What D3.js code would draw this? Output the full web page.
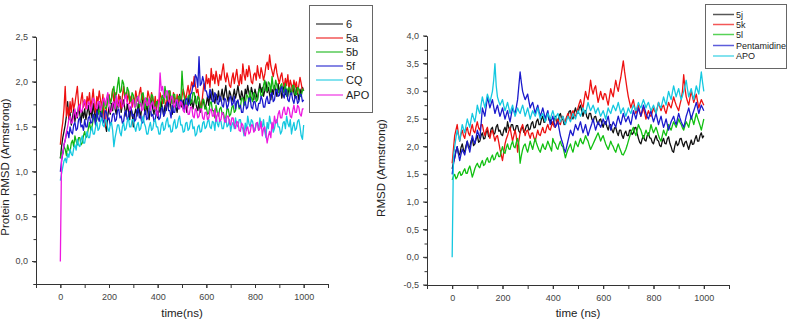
<!DOCTYPE html>
<html>
<head>
<meta charset="utf-8">
<script src="https://cdn.jsdelivr.net/npm/d3@7"></script>
<style>
  body { margin: 0; background: #fff; }
  svg { display: block; font-family: "Liberation Sans", Arial, sans-serif; }
  .tick text { fill: #444; }
</style>
</head>
<body>
<div id="chart"></div>
<script>
// time axis, one sample every 5 ns
const times = d3.range(0, 1001, 5);

// ---- left panel: protein RMSD ----
const leftNames = ["6", "5a", "5b", "5f", "CQ", "APO"];
const leftColors = ["#111111", "#ee1111", "#11b511", "#1a1acc", "#14c8e0", "#ee18e0"];

const s6 = [
  1.15,1.28,1.38,1.45,1.52,1.62,1.78,1.58,1.66,1.52,1.60,1.70,1.56,1.66,1.60,1.74,1.64,1.55,1.68,1.60,
  1.70,1.58,1.66,1.74,1.62,1.70,1.60,1.76,1.66,1.58,1.72,1.64,1.78,1.68,1.60,1.74,1.66,1.52,1.45,1.62,
  1.72,1.64,1.76,1.68,1.82,1.70,1.64,1.78,1.72,1.84,1.66,1.74,1.80,1.70,1.62,1.76,1.68,1.58,1.72,1.66,
  1.50,1.64,1.70,1.62,1.76,1.68,1.60,1.74,1.82,1.70,1.64,1.76,1.66,1.58,1.72,1.80,1.70,1.64,1.76,1.68,
  1.60,1.72,1.66,1.78,1.70,1.62,1.74,1.68,1.80,1.72,1.84,1.70,1.64,1.76,1.82,1.72,1.66,1.78,1.86,1.74,
  1.72,1.80,1.70,1.78,1.66,1.76,1.86,1.74,1.80,1.70,1.78,1.84,1.72,1.68,1.78,1.66,1.74,1.82,1.76,1.70,
  1.76,1.84,1.74,1.88,1.80,1.92,1.82,1.76,1.86,1.80,1.90,1.78,1.84,1.92,1.80,1.88,1.96,1.84,1.78,1.90,
  1.86,1.78,1.84,1.92,1.82,1.88,1.96,1.86,1.80,1.90,1.84,1.78,1.92,1.86,1.96,1.88,1.82,1.94,1.88,1.80,
  1.92,1.86,1.80,1.90,1.98,1.88,1.94,1.84,1.90,2.00,1.88,1.94,1.86,1.80,1.92,1.86,1.96,1.90,1.84,1.98,
  1.88,1.94,1.82,1.90,1.96,1.86,1.92,1.84,1.98,1.90,1.86,1.96,1.88,1.82,1.94,1.88,1.80,1.92,1.86,1.94,
  1.90];
const s5a = [
  1.30,1.45,1.55,1.70,1.95,1.62,1.72,1.60,1.78,1.66,1.82,1.70,1.76,1.86,1.95,1.74,1.68,1.80,1.88,1.72,
  1.80,1.70,1.84,1.76,1.88,1.72,1.80,1.92,1.74,1.66,1.84,1.78,1.90,1.80,1.72,1.86,1.60,1.50,1.72,1.82,
  1.86,1.76,1.82,1.92,1.78,1.88,1.80,1.74,1.86,1.78,1.70,1.84,1.95,1.82,1.88,1.78,1.90,1.76,1.84,1.72,
  1.84,1.76,1.90,1.82,1.78,1.88,1.94,1.80,1.86,1.74,1.82,1.76,1.90,1.84,1.76,1.88,1.80,1.72,1.84,1.70,
  1.80,1.74,1.88,1.82,1.76,1.86,1.78,1.72,1.84,1.78,1.90,1.82,1.76,1.88,1.80,1.74,1.86,1.78,1.84,1.74,
  1.84,1.92,1.86,1.80,1.88,1.96,1.86,1.92,2.00,1.94,2.06,1.96,1.88,1.92,1.82,1.76,1.70,1.86,1.98,1.92,
  2.08,1.98,2.04,1.94,2.15,2.02,2.08,1.98,2.12,2.04,1.96,2.08,2.02,2.12,2.20,2.06,2.00,2.10,2.04,1.96,
  1.94,2.04,2.10,1.98,2.06,2.14,2.02,1.96,2.08,1.98,2.20,2.08,2.02,2.14,2.06,2.18,2.10,2.00,1.98,2.08,
  2.10,2.02,2.18,2.08,2.04,2.16,2.10,2.02,2.08,2.18,2.22,2.14,2.30,2.18,2.12,2.06,2.14,2.20,2.10,2.04,
  1.98,2.06,2.10,2.00,1.95,2.04,1.96,2.08,1.92,2.02,1.96,1.90,2.02,1.94,2.00,1.88,1.96,2.05,1.98,1.90,
  1.92];
const s5b = [
  1.15,1.22,1.20,1.28,1.25,1.18,1.30,1.24,1.22,1.32,1.35,1.28,1.40,1.34,1.30,1.38,1.38,1.30,1.32,1.40,
  1.45,1.38,1.40,1.48,1.55,1.46,1.50,1.58,1.62,1.54,1.58,1.66,1.70,1.62,1.65,1.74,1.78,1.70,1.72,1.80,
  1.85,1.76,1.80,1.90,1.95,1.82,1.85,1.96,2.05,1.88,1.90,2.02,1.98,1.86,1.82,1.94,1.90,1.80,1.78,1.88,
  1.85,1.74,1.72,1.84,1.82,1.72,1.76,1.86,1.88,1.78,1.70,1.82,1.80,1.70,1.74,1.86,1.84,1.72,1.68,1.78,
  1.78,1.68,1.72,1.82,1.85,1.76,1.95,1.84,1.80,1.90,1.90,1.80,1.76,1.86,1.86,1.74,1.74,1.84,1.84,1.76,
  2.12,1.90,1.82,1.74,1.74,1.84,1.85,1.76,1.78,1.88,1.88,1.78,1.75,1.84,1.82,1.72,1.70,1.80,1.80,1.70,
  1.72,1.64,1.65,1.76,1.78,1.68,1.68,1.60,1.74,1.66,1.62,1.70,1.72,1.64,1.66,1.58,1.60,1.70,1.70,1.62,
  1.64,1.72,1.74,1.66,1.68,1.78,1.78,1.70,1.72,1.82,1.82,1.74,1.75,1.86,1.84,1.78,1.90,1.82,1.78,1.88,
  1.86,1.78,1.80,1.90,1.92,1.84,1.85,1.96,2.02,1.90,1.90,2.00,1.98,1.88,2.06,1.94,1.92,2.02,1.96,1.88,
  1.88,1.96,1.98,1.88,1.90,1.98,1.84,1.92,1.94,1.86,1.88,1.96,1.96,1.86,1.86,1.94,1.92,1.84,1.84,1.92,
  1.90];
const s5f = [
  1.00,1.12,1.20,1.30,1.35,1.42,1.45,1.38,1.50,1.44,1.42,1.52,1.55,1.46,1.48,1.58,1.60,1.50,1.52,1.46,
  1.58,1.50,1.50,1.60,1.62,1.54,1.55,1.64,1.60,1.52,1.68,1.60,1.56,1.66,1.64,1.54,1.58,1.68,1.66,1.58,
  1.60,1.52,1.55,1.64,1.65,1.56,1.58,1.68,1.70,1.60,1.62,1.54,1.56,1.66,1.68,1.58,1.60,1.70,1.72,1.62,
  1.64,1.56,1.58,1.68,1.70,1.60,1.62,1.54,1.55,1.64,1.68,1.58,1.60,1.70,1.72,1.62,1.64,1.56,1.58,1.68,
  1.66,1.58,1.60,1.70,1.72,1.62,1.65,1.74,1.78,1.68,1.68,1.60,1.74,1.66,1.66,1.76,1.80,1.70,1.72,1.80,
  1.78,1.70,1.70,1.80,1.82,1.74,1.76,1.86,1.88,1.96,1.95,2.08,2.05,1.94,2.28,1.96,1.98,2.06,2.00,1.90,
  1.90,1.84,1.82,1.92,1.88,1.78,1.78,1.88,1.85,1.76,1.75,1.84,1.82,1.74,1.72,1.82,1.80,1.70,1.74,1.82,
  1.84,1.74,1.76,1.84,1.70,1.78,1.80,1.72,1.74,1.66,1.66,1.76,1.78,1.70,1.72,1.82,1.82,1.72,1.70,1.78,
  1.78,1.70,1.68,1.76,1.76,1.84,1.80,1.72,1.72,1.80,1.84,1.76,1.76,1.86,1.88,1.78,1.80,1.90,1.92,1.84,
  1.85,1.92,1.95,1.86,1.82,1.92,1.90,1.80,1.78,1.86,1.88,1.80,1.76,1.84,1.84,1.76,1.78,1.86,1.86,1.78,
  1.80];
const sCQ = [
  0.90,0.98,1.05,1.12,1.15,1.10,1.20,1.16,1.25,1.20,1.18,1.26,1.30,1.24,1.36,1.30,1.28,1.35,1.40,1.32,
  1.32,1.40,1.45,1.38,1.38,1.46,1.50,1.42,1.42,1.50,1.55,1.46,1.48,1.56,1.60,1.52,1.50,1.58,1.56,1.48,
  1.45,1.52,1.55,1.46,1.28,1.38,1.45,1.52,1.52,1.44,1.40,1.50,1.55,1.46,1.48,1.56,1.60,1.50,1.50,1.58,
  1.58,1.50,1.45,1.52,1.55,1.46,1.48,1.56,1.62,1.54,1.50,1.42,1.42,1.50,1.55,1.46,1.48,1.56,1.58,1.50,
  1.50,1.42,1.42,1.52,1.55,1.46,1.48,1.56,1.60,1.50,1.52,1.44,1.45,1.54,1.58,1.48,1.50,1.58,1.62,1.52,
  1.52,1.44,1.45,1.54,1.55,1.46,1.48,1.56,1.58,1.48,1.50,1.40,1.42,1.50,1.52,1.44,1.45,1.54,1.56,1.48,
  1.50,1.56,1.58,1.50,1.48,1.56,1.55,1.46,1.62,1.54,1.50,1.58,1.56,1.48,1.48,1.56,1.60,1.50,1.52,1.58,
  1.45,1.52,1.55,1.48,1.60,1.52,1.50,1.58,1.58,1.50,1.48,1.40,1.54,1.46,1.62,1.54,1.50,1.58,1.56,1.48,
  1.46,1.54,1.54,1.46,1.60,1.52,1.50,1.58,1.45,1.38,1.55,1.48,1.62,1.54,1.52,1.44,1.48,1.56,1.58,1.50,
  1.50,1.42,1.45,1.54,1.56,1.48,1.62,1.54,1.50,1.58,1.42,1.50,1.55,1.46,1.48,1.56,1.58,1.50,1.40,1.36,
  1.52];
const sAPO = [
  0.00,1.15,1.20,1.30,1.35,1.44,1.50,1.58,1.62,1.54,1.55,1.64,1.70,1.60,1.62,1.72,1.75,1.66,1.68,1.76,
  1.80,1.72,1.70,1.78,1.76,1.66,1.74,1.82,1.80,1.72,1.70,1.78,1.78,1.68,1.72,1.80,1.82,1.74,1.82,1.88,
  1.74,1.66,1.68,1.76,1.78,1.70,1.85,1.76,1.72,1.80,1.80,1.72,1.74,1.82,1.86,1.76,1.76,1.68,1.70,1.78,
  1.80,1.72,1.74,1.82,1.84,1.76,1.76,1.68,1.70,1.78,1.82,1.74,1.74,1.82,1.68,1.76,1.78,1.70,1.72,1.66,
  1.62,1.80,2.10,1.90,1.95,1.84,1.82,1.90,1.90,1.80,1.76,1.84,1.84,1.74,1.72,1.80,1.80,1.72,1.70,1.78,
  1.76,1.68,1.66,1.74,1.74,1.64,1.64,1.72,1.72,1.62,1.60,1.70,1.68,1.60,1.62,1.70,1.70,1.60,1.58,1.66,
  1.66,1.58,1.60,1.68,1.70,1.62,1.62,1.70,1.56,1.64,1.66,1.56,1.58,1.66,1.64,1.56,1.55,1.62,1.62,1.54,
  1.52,1.60,1.60,1.52,1.48,1.56,1.55,1.46,1.45,1.54,1.52,1.44,1.40,1.48,1.50,1.42,1.44,1.52,1.52,1.44,
  1.46,1.54,1.55,1.46,1.48,1.56,1.40,1.48,1.50,1.42,1.32,1.40,1.45,1.38,1.55,1.48,1.62,1.54,1.55,1.64,
  1.68,1.60,1.60,1.68,1.72,1.64,1.64,1.72,1.70,1.62,1.60,1.68,1.74,1.66,1.66,1.74,1.72,1.64,1.62,1.70,
  1.70];
const leftSeries = [s6, s5a, s5b, s5f, sCQ, sAPO];

// ---- right panel: RMSD ----
const rightNames = ["5j", "5k", "5l", "Pentamidine", "APO"];
const rightColors = ["#111111", "#ee1111", "#11c011", "#1a1acc", "#14c8e0"];

const s5j = [
  1.60,1.72,1.80,1.92,2.00,1.88,1.85,1.98,2.05,1.94,1.90,2.02,2.10,1.98,2.00,2.10,2.15,2.02,2.05,2.14,
  2.20,2.08,2.10,2.20,2.25,2.14,2.15,2.26,2.30,2.18,2.20,2.32,2.35,2.22,2.25,2.36,2.40,2.28,2.30,2.22,
  2.20,2.30,2.35,2.26,2.45,2.34,2.30,2.40,2.40,2.30,2.28,2.38,2.38,2.28,2.25,2.34,2.35,2.26,2.30,2.38,
  2.40,2.30,2.32,2.42,2.45,2.34,2.35,2.46,2.50,2.40,2.40,2.50,2.55,2.44,2.45,2.56,2.60,2.48,2.50,2.42,
  2.40,2.50,2.55,2.44,2.45,2.56,2.60,2.50,2.50,2.40,2.42,2.54,2.55,2.64,2.65,2.54,2.50,2.62,2.70,2.60,
  2.60,2.70,2.75,2.64,2.55,2.64,2.65,2.54,2.50,2.60,2.60,2.50,2.45,2.54,2.55,2.46,2.40,2.48,2.50,2.42,
  2.35,2.44,2.45,2.36,2.30,2.40,2.40,2.30,2.25,2.34,2.35,2.26,2.20,2.30,2.30,2.20,2.15,2.24,2.28,2.20,
  2.20,2.30,2.30,2.22,2.25,2.34,2.35,2.24,2.15,2.08,2.05,2.14,2.20,2.12,2.10,2.20,2.25,2.16,2.15,2.08,
  2.05,2.14,2.20,2.12,2.10,2.02,2.00,2.10,2.15,2.06,2.05,2.14,2.18,2.06,2.00,1.92,1.90,2.02,2.10,2.02,
  2.05,2.14,2.15,2.06,2.00,2.08,2.10,2.02,1.95,2.04,2.12,2.04,2.05,2.14,2.20,2.10,2.10,2.20,2.25,2.16,
  2.20];
const s5k = [
  1.70,1.95,2.20,2.30,2.40,2.22,2.10,2.22,2.30,2.20,2.15,2.28,2.35,2.24,2.20,2.32,2.40,2.28,2.25,2.36,
  2.45,2.34,2.30,2.40,2.40,2.28,2.20,2.30,2.35,2.24,2.15,2.26,2.30,2.20,2.10,2.18,2.20,2.08,1.95,1.85,
  1.75,1.90,2.05,2.14,2.20,2.28,2.35,2.22,2.10,2.20,2.30,2.18,1.90,2.10,2.25,2.34,2.40,2.30,2.20,2.28,
  2.30,2.22,2.15,2.24,2.25,2.16,2.10,2.20,2.30,2.22,2.20,2.28,2.35,2.26,2.25,2.34,2.40,2.32,2.30,2.38,
  2.45,2.36,2.35,2.44,2.50,2.42,2.40,2.50,2.55,2.46,2.45,2.54,2.60,2.52,2.50,2.60,2.65,2.56,2.55,2.62,
  2.70,2.78,2.85,2.76,2.70,2.86,3.00,2.90,2.85,3.00,3.20,3.04,2.95,3.05,3.10,2.94,2.80,2.90,3.00,2.90,
  2.85,2.96,2.95,2.84,2.75,2.90,3.05,2.96,2.90,3.06,3.20,3.08,3.00,3.14,3.25,3.40,3.55,3.36,3.20,3.04,
  2.90,2.80,2.70,2.78,2.85,2.72,2.60,2.68,2.75,2.64,2.55,2.62,2.70,2.60,2.50,2.58,2.65,2.58,2.55,2.62,
  2.70,2.64,2.60,2.70,2.80,2.72,2.65,2.72,2.75,2.66,2.60,2.70,2.80,2.74,2.70,2.80,2.90,2.82,2.75,2.70,
  2.65,2.76,2.85,3.00,3.30,3.06,2.90,2.82,2.75,2.88,3.00,2.90,2.80,2.88,2.95,2.82,2.70,2.78,2.85,2.80,
  2.75];
const s5l = [
  1.40,1.46,1.50,1.42,1.45,1.52,1.55,1.48,1.50,1.56,1.60,1.52,1.52,1.60,1.65,1.56,1.45,1.52,1.60,1.66,
  1.70,1.64,1.62,1.70,1.75,1.66,1.68,1.76,1.80,1.72,1.72,1.80,1.85,1.76,1.78,1.86,1.90,1.82,1.82,1.92,
  2.00,1.90,1.88,1.98,2.05,1.96,1.95,2.04,2.10,2.00,1.98,2.08,2.15,2.02,1.70,1.84,1.95,2.02,2.05,1.96,
  1.90,2.00,2.10,2.02,1.95,2.06,2.15,2.06,2.00,1.94,1.90,1.98,2.05,1.98,1.95,2.02,2.10,2.04,1.98,1.92,
  2.15,2.08,2.05,1.98,1.95,2.04,2.10,2.02,2.00,1.90,1.80,1.88,1.95,2.00,2.05,1.96,1.90,2.00,2.10,2.04,
  2.00,2.08,2.15,2.08,2.05,2.12,2.20,2.14,2.10,2.02,1.95,2.00,2.05,2.10,2.15,2.20,2.25,2.18,2.10,2.16,
  2.20,2.12,2.05,2.00,1.95,2.02,2.10,2.04,2.00,1.94,1.90,1.98,2.05,1.98,1.92,1.86,1.85,1.90,1.95,2.02,
  2.10,2.18,2.25,2.30,2.35,2.26,2.20,2.30,2.40,2.34,2.30,2.22,2.15,2.22,2.30,2.24,2.20,2.28,2.40,2.32,
  2.25,2.30,2.35,2.28,2.20,2.14,2.10,2.20,2.30,2.24,2.20,2.30,2.40,2.34,2.30,2.38,2.45,2.40,2.35,2.42,
  2.50,2.44,2.40,2.34,2.30,2.38,2.45,2.40,2.35,2.46,2.55,2.48,2.40,2.50,2.60,2.52,2.45,2.38,2.30,2.40,
  2.50];
const sPent = [
  1.50,1.68,1.80,1.92,2.00,1.86,1.75,1.86,1.95,1.90,1.85,1.98,2.10,2.00,1.90,2.04,2.20,2.12,2.05,2.16,
  2.30,2.22,2.15,2.40,2.70,2.62,2.55,2.72,2.90,2.80,2.70,2.78,2.85,2.72,2.60,2.68,2.75,2.64,2.55,2.62,
  2.70,2.60,2.50,2.58,2.65,2.54,2.45,2.58,2.70,2.64,2.60,2.72,2.85,3.10,3.35,3.16,3.00,2.92,2.85,2.90,
  2.95,2.82,2.70,2.76,2.80,2.70,2.60,2.68,2.75,2.64,2.55,2.62,2.70,2.60,2.50,2.58,2.65,2.52,2.40,2.48,
  2.55,2.44,2.35,2.40,2.45,2.32,2.20,2.12,2.05,1.96,1.90,2.00,2.10,2.20,2.30,2.24,2.20,2.30,2.40,2.34,
  2.30,2.38,2.45,2.34,2.25,2.32,2.40,2.30,2.20,2.28,2.35,2.42,2.50,2.40,2.30,2.38,2.45,2.40,2.35,2.42,
  2.50,2.44,2.40,2.48,2.55,2.42,2.30,2.38,2.45,2.40,2.35,2.46,2.55,2.46,2.40,2.50,2.60,2.52,2.45,2.50,
  2.55,2.46,2.40,2.52,2.65,2.58,2.50,2.60,2.70,2.62,2.55,2.66,2.75,2.68,2.60,2.54,2.50,2.58,2.65,2.54,
  2.45,2.52,2.60,2.50,2.40,2.48,2.55,2.44,2.35,2.42,2.50,2.40,2.30,2.38,2.45,2.50,2.55,2.46,2.40,2.50,
  2.60,2.52,2.45,2.40,2.35,2.44,2.55,2.62,2.70,2.60,2.50,2.58,2.65,2.72,2.80,2.70,2.60,2.68,2.75,2.70,
  2.65];
const sAPO2 = [
  0.00,1.80,2.00,2.16,2.30,2.20,2.10,2.26,2.40,2.32,2.25,2.38,2.50,2.42,2.35,2.48,2.60,2.52,2.45,2.58,
  2.75,2.66,2.60,2.76,2.90,2.80,2.70,2.82,2.95,2.88,2.80,2.90,3.00,3.20,3.50,3.10,2.90,2.82,2.75,2.80,
  2.85,2.74,2.65,2.72,2.80,2.70,2.60,2.68,2.75,2.64,2.55,2.62,2.70,2.64,2.60,2.68,2.75,2.66,2.55,2.62,
  2.70,2.60,2.50,2.58,2.65,2.60,2.55,2.62,2.70,2.60,2.50,2.56,2.60,2.52,2.45,2.52,2.60,2.54,2.50,2.58,
  2.65,2.56,2.50,2.56,2.60,2.52,2.45,2.50,2.55,2.46,2.40,2.48,2.55,2.50,2.45,2.52,2.60,2.54,2.50,2.58,
  2.65,2.60,2.55,2.62,2.70,2.64,2.60,2.70,2.80,2.72,2.65,2.70,2.75,2.68,2.60,2.66,2.70,2.62,2.55,2.60,
  2.65,2.58,2.50,2.60,2.70,2.64,2.60,2.68,2.75,2.70,2.65,2.72,2.80,2.70,2.60,2.66,2.70,2.62,2.55,2.62,
  2.70,2.64,2.60,2.68,2.75,2.70,2.65,2.72,2.80,2.74,2.70,2.78,2.85,2.78,2.70,2.76,2.80,2.72,2.65,2.70,
  2.75,2.68,2.60,2.70,2.80,2.74,2.70,2.80,2.90,2.82,2.75,2.88,3.00,2.92,2.85,2.98,3.10,3.00,2.90,2.98,
  3.05,2.94,2.85,2.92,3.00,3.10,3.20,3.04,2.90,2.98,3.05,2.94,2.85,2.98,3.10,3.02,2.95,3.15,3.35,3.16,
  3.00];
const rightSeries = [s5j, s5k, s5l, sPent, sAPO2];

const xTickLabels = [0, 200, 400, 600, 800, 1000];
const leftYTicks = [0, 0.5, 1, 1.5, 2, 2.5];
const rightYTicks = [-0.5, 0, 0.5, 1, 1.5, 2, 2.5, 3, 3.5, 4];

const W = 789, H = 325;
const svg = d3.select("#chart").append("svg")
  .attr("width", W).attr("height", H);

const comma = d => d3.format(".1f")(d).replace(".", ",").replace("\u2212", "-");

function drawPanel(cfg) {
  const x = d3.scaleLinear().domain([-100, 1100]).range([cfg.left, cfg.right]);
  const y = d3.scaleLinear().domain(cfg.yDomain).range([cfg.bottom, cfg.top]);
  const g = svg.append("g");

  // traces first, axes on top
  const line = d3.line().x((d, i) => x(times[i])).y(d => y(d));
  cfg.series.forEach((s, k) => {
    g.append("path")
      .datum(s)
      .attr("fill", "none")
      .attr("stroke", cfg.colors[k])
      .attr("stroke-width", 1.3)
      .attr("stroke-linejoin", "round")
      .attr("d", line);
  });

  // x axis, minor ticks every 100
  g.append("g")
    .attr("transform", `translate(0,${cfg.bottom})`)
    .call(d3.axisBottom(x).tickValues(d3.range(-100, 1101, 100)).tickSize(4).tickFormat(""))
    .call(a => a.select(".domain").attr("stroke", "#333"))
    .call(a => a.selectAll("line").attr("stroke", "#333"));
  g.append("g")
    .attr("transform", `translate(0,${cfg.bottom})`)
    .call(d3.axisBottom(x).tickValues(xTickLabels).tickSize(4).tickPadding(6).tickFormat(d3.format("d")))
    .call(a => a.select(".domain").remove())
    .call(a => a.selectAll("line").attr("stroke", "#333"))
    .call(a => a.selectAll("text").attr("font-size", 9));

  // y axis, minor ticks every 0.25
  const minorY = d3.range(cfg.yDomain[0], cfg.yDomain[1] + 0.01, 0.25);
  g.append("g")
    .attr("transform", `translate(${cfg.left},0)`)
    .call(d3.axisLeft(y).tickValues(minorY).tickSize(2.5).tickFormat(""))
    .call(a => a.select(".domain").attr("stroke", "#333"))
    .call(a => a.selectAll("line").attr("stroke", "#333"));
  const yAx = g.append("g")
    .attr("transform", `translate(${cfg.left},0)`);
  cfg.yTicks.forEach(v => {
    yAx.append("line")
      .attr("x1", -4).attr("x2", 0)
      .attr("y1", y(v)).attr("y2", y(v))
      .attr("stroke", "#333");
    yAx.append("text")
      .attr("x", -8).attr("y", y(v)).attr("dy", "0.32em")
      .attr("text-anchor", "end").attr("font-size", 9).attr("fill", "#444")
      .text(comma(v));
  });

  // titles
  g.append("text")
    .attr("x", (x(0) + x(1000)) / 2).attr("y", 317)
    .attr("text-anchor", "middle").attr("font-size", 11.5).attr("fill", "#222")
    .text(cfg.xTitle);
  g.append("text")
    .attr("transform", `translate(${cfg.yTitleX},${cfg.yTitleY}) rotate(-90)`)
    .attr("text-anchor", "middle").attr("font-size", 11.5).attr("fill", "#222")
    .text(cfg.yTitle);

  // legend
  const lg = g.append("g");
  lg.append("rect")
    .attr("x", cfg.legend.x).attr("y", cfg.legend.y)
    .attr("width", cfg.legend.w).attr("height", cfg.legend.h)
    .attr("fill", "#fff").attr("stroke", "#666").attr("stroke-width", 1);
  cfg.names.forEach((n, k) => {
    const ly = cfg.legend.rowY[k];
    lg.append("line")
      .attr("x1", cfg.legend.lx1).attr("x2", cfg.legend.lx2)
      .attr("y1", ly).attr("y2", ly)
      .attr("stroke", cfg.colors[k]).attr("stroke-width", 1.5).attr("opacity", 0.7);
    lg.append("text")
      .attr("x", cfg.legend.tx).attr("y", ly).attr("dy", "0.35em")
      .attr("font-size", cfg.legend.fs).attr("fill", "#222")
      .text(n);
  });
}

drawPanel({
  left: 36, right: 328, top: 37, bottom: 284,
  yDomain: [-0.25, 2.5], yTicks: leftYTicks,
  series: leftSeries, colors: leftColors, names: leftNames,
  xTitle: "time(ns)", yTitle: "Protein RMSD (Armstrong)", yTitleX: 9, yTitleY: 167,
  legend: { x: 309.5, y: 5.5, w: 63, h: 107, lx1: 316, lx2: 343, tx: 346, fs: 11,
    rowY: [24, 38, 52, 66, 80, 95] }
});

drawPanel({
  left: 427, right: 729, top: 36, bottom: 285,
  yDomain: [-0.5, 4.0], yTicks: rightYTicks,
  series: rightSeries, colors: rightColors, names: rightNames,
  xTitle: "time (ns)", yTitle: "RMSD (Armstrong)", yTitleX: 385, yTitleY: 168,
  legend: { x: 705.5, y: 4.5, w: 81, h: 64, lx1: 713, lx2: 734, tx: 736, fs: 9,
    rowY: [14.5, 24.5, 34.5, 45.5, 56] }
});
</script>
</body>
</html>
